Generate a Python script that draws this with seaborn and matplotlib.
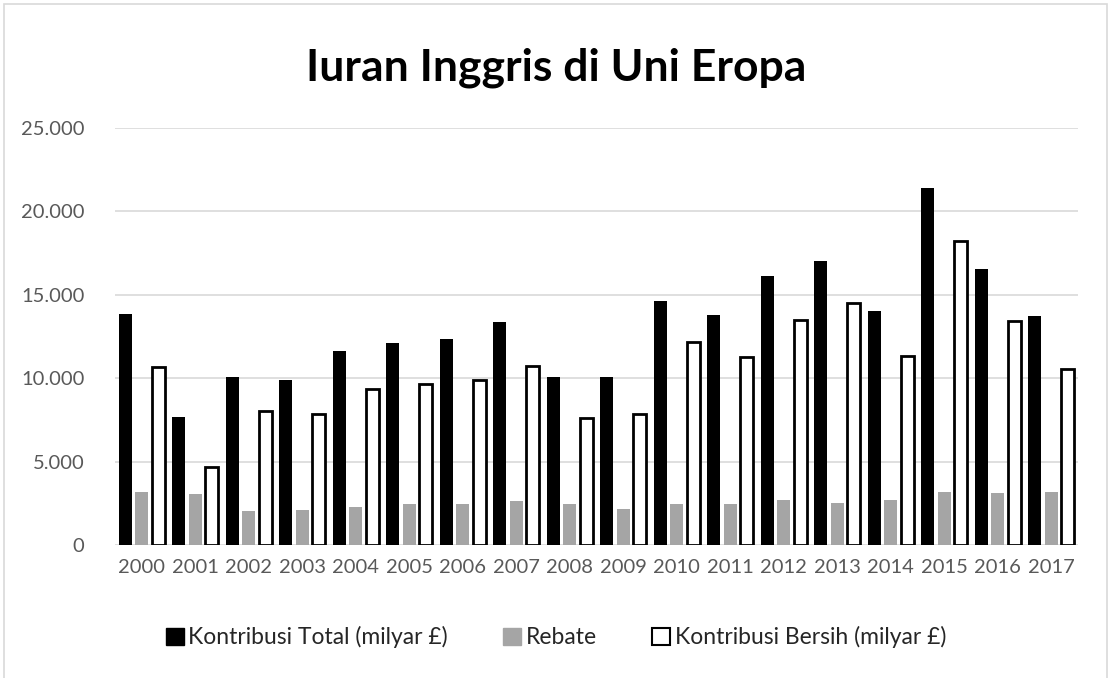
import matplotlib
matplotlib.use("Agg")
import matplotlib.pyplot as plt
import matplotlib.ticker as mticker
from matplotlib.patches import Patch, Rectangle
import pandas as pd
import seaborn as sns

years = [str(y) for y in range(2000, 2018)]
kontribusi_total = [13840, 7660, 10090, 9910, 11630, 12090, 12330, 13370, 10050,
                    10050, 14600, 13800, 16140, 17020, 14020, 21380, 16560, 13720]
rebate = [3150, 3050, 2030, 2070, 2250, 2470, 2470, 2610, 2430,
          2170, 2430, 2470, 2670, 2510, 2670, 3150, 3090, 3150]
kontribusi_bersih = [10690, 4650, 8060, 7880, 9380, 9630, 9870, 10750, 7620,
                     7880, 12170, 11270, 13470, 14500, 11350, 18250, 13450, 10570]
series_names = ["Kontribusi Total (milyar £)", "Rebate", "Kontribusi Bersih (milyar £)"]

df = pd.DataFrame({
    "tahun": years * 3,
    "nilai": kontribusi_total + rebate + kontribusi_bersih,
    "seri": [series_names[0]] * 18 + [series_names[1]] * 18 + [series_names[2]] * 18,
})

sns.set_style("white")
plt.rcParams["font.family"] = ["Lato", "DejaVu Sans"]

fig = plt.figure(figsize=(11.12, 6.78), dpi=100)
ax = fig.add_axes([0.1034, 0.1962, 0.866, 0.615])

palette = {series_names[0]: "black", series_names[1]: "#a5a5a5", series_names[2]: "white"}
sns.barplot(data=df, x="tahun", y="nilai", hue="seri", palette=palette,
            width=0.92, ax=ax, legend=False, saturation=1)

# shrink bars a bit so there are gaps inside each group
for i, cont in enumerate(ax.containers):
    for p in cont.patches:
        w = p.get_width()
        cx = p.get_x() + w / 2
        p.set_width(w * 0.8)
        p.set_x(cx - w * 0.8 / 2)
        if i == 2:
            p.set_facecolor("white")
            p.set_edgecolor("black")
            p.set_linewidth(2)
        else:
            p.set_linewidth(0)

ax.set_ylim(0, 25000)
ax.set_xlim(-0.5, 17.5)
ax.yaxis.set_major_locator(mticker.MultipleLocator(5000))
ax.yaxis.set_major_formatter(mticker.FuncFormatter(lambda v, _: f"{int(v):,}".replace(",", ".")))
ax.grid(axis="y", color="#d9d9d9", linewidth=1.2)
ax.set_axisbelow(True)
for s in ax.spines.values():
    s.set_visible(False)
ax.tick_params(axis="both", length=0, labelsize=14.5, colors="#595959", pad=10)
ax.tick_params(axis="y", pad=22)
ax.set_xlabel("")
ax.set_ylabel("")

fig.text(0.5, 0.9, "Iuran Inggris di Uni Eropa", ha="center", va="center",
         fontsize=32, fontweight="bold", color="black")

handles = [Patch(facecolor="black", edgecolor="black"),
           Patch(facecolor="#a5a5a5", edgecolor="#a5a5a5"),
           Patch(facecolor="white", edgecolor="black", linewidth=1.5)]
fig.legend(handles, series_names, loc="center", bbox_to_anchor=(0.5, 0.06),
           ncol=3, frameon=False, fontsize=16.5, handlelength=0.8, handleheight=0.8,
           handletextpad=0.2, columnspacing=2.4, labelcolor="#262626")

# chart border
fig.add_artist(Rectangle((4 / 1112, -0.05), 1103 / 1112, 1.05 - 4 / 678,
                         transform=fig.transFigure, fill=False,
                         edgecolor="#d9d9d9", linewidth=1.2))

fig.savefig("out.png", dpi=100)
